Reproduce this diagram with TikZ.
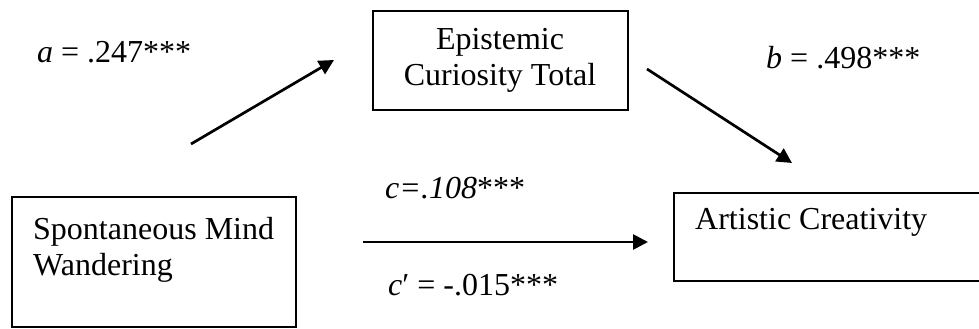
\documentclass[tikz,border=0pt]{standalone}
\usepackage{fontspec}
\setmainfont{Liberation Serif}
\usetikzlibrary{arrows.meta}
\tikzset{
  thinbox/.style={draw, line width=1.3pt, inner sep=0pt},
  thickbox/.style={draw, line width=2.5pt, inner sep=0pt},
  boxtext/.style={font=\fontsize{32}{36}\selectfont, inner sep=0pt},
  coef/.style={font=\fontsize{32}{36}\selectfont, inner sep=0pt, anchor=west},
  path/.style={line width=2.7pt, -{Triangle[length=15pt,width=15pt]}}
}
\begin{document}
\begin{tikzpicture}[x=1pt,y=-1pt]
\useasboundingbox (0,0) rectangle (979,329);
% boxes
\node[thinbox, minimum width=255pt, minimum height=99pt] (ec) at (500.5,60.5) {};
\node[boxtext, align=center] (ectext) at (500,60) {Epistemic\\Curiosity Total};
\node[thickbox, minimum width=284pt, minimum height=130pt] (smw) at (154,262) {};
\node[boxtext, align=left, anchor=west] (smwtext) at (33,250) {Spontaneous Mind\\Wandering};
\node[thinbox, minimum width=330pt, minimum height=88pt] (ac) at (839,237) {};
\node[boxtext, anchor=west] (actext) at (695,222) {Artistic Creativity};
% connector ends
\coordinate (a1) at (191,144);
\coordinate (a2) at (334,60);
\coordinate (b1) at (647,69);
\coordinate (b2) at (792,163);
\coordinate (c1) at (363,242);
\coordinate (c2) at (648,242);
\draw[path] (a1) -- (a2);
\draw[path] (b1) -- (b2);
\draw[path] (c1) -- (c2);
% coefficients
\node[coef] (la) at (37,52) {\textit{a} = .247***};
\node[coef] (lb) at (766,58) {\textit{b} = .498***};
\node[coef] (lc) at (385,188) {\textit{c=.108}***};
\node[coef] (lcp) at (388,285) {\textit{c}′ = -.015***};
\end{tikzpicture}
\end{document}
